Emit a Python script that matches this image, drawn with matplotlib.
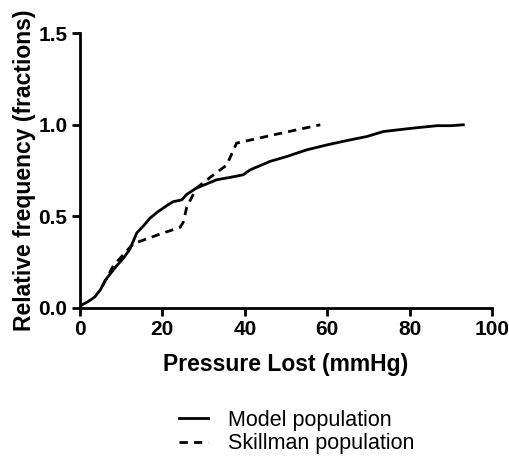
import numpy as np
import matplotlib.pyplot as plt

plt.rcParams['font.family'] = ['Liberation Sans', 'DejaVu Sans']

# cumulative relative frequency
model_x = [0, 0.4, 2.0, 3.6, 5.0, 6.1, 7.5, 8.9, 10.5, 12.1, 13.8, 15.5, 17.0, 18.6,
           20.2, 21.5, 22.6, 24.7, 25.9, 28.3, 30.5, 33.2, 36.5, 39.6, 41.3, 43.5, 46.1,
           50.2, 55.0, 59.9, 65.0, 69.6, 73.6, 77.0, 80.9, 86.6, 90.0, 93.0]
model_y = [0, 0.016, 0.035, 0.06, 0.1, 0.15, 0.19, 0.23, 0.27, 0.32, 0.41, 0.45, 0.49, 0.52,
           0.545, 0.565, 0.58, 0.59, 0.62, 0.655, 0.675, 0.70, 0.713, 0.727, 0.754, 0.775, 0.80,
           0.827, 0.863, 0.89, 0.915, 0.936, 0.963, 0.972, 0.982, 0.995, 0.995, 1.0]

skill_x = [5.5, 8.1, 12.9, 19.0, 24.3, 25.1, 25.9, 28.3, 32.0, 35.6, 38.0, 48.0, 58.3]
skill_y = [0.12, 0.23, 0.35, 0.40, 0.44, 0.47, 0.55, 0.655, 0.72, 0.78, 0.90, 0.95, 1.0]

fig = plt.figure(figsize=(5.09, 4.61), dpi=100)
ax = fig.add_axes([0.157, 0.332, 0.81, 0.596])

ax.plot(model_x, model_y, color='black', lw=2, label='Model population')
ax.plot(skill_x, skill_y, color='black', lw=2, ls=(0, (3, 2.2)), label='Skillman population')

ax.set_xlim(0, 100)
ax.set_ylim(0, 1.5)
ax.set_xticks([0, 20, 40, 60, 80, 100])
ax.set_yticks([0.0, 0.5, 1.0, 1.5])
ax.set_yticklabels(['0.0', '0.5', '1.0', '1.5'])

for s in ['top', 'right']:
    ax.spines[s].set_visible(False)
for s in ['left', 'bottom']:
    ax.spines[s].set_linewidth(2)
ax.tick_params(direction='out', length=6, width=2, labelsize=15, pad=3)
for lab in ax.get_xticklabels() + ax.get_yticklabels():
    lab.set_fontweight('bold')

ax.set_xlabel('Pressure Lost (mmHg)', fontsize=16.5, fontweight='bold', labelpad=10)
ax.set_ylabel('Relative frequency (fractions)', fontsize=16.5, fontweight='bold', labelpad=2)

fig.legend(loc='center', bbox_to_anchor=(0.583, 0.063), frameon=False, fontsize=15.5,
           handlelength=1.35, handletextpad=0.9, labelspacing=0.12)

fig.savefig('out.png', dpi=100)
